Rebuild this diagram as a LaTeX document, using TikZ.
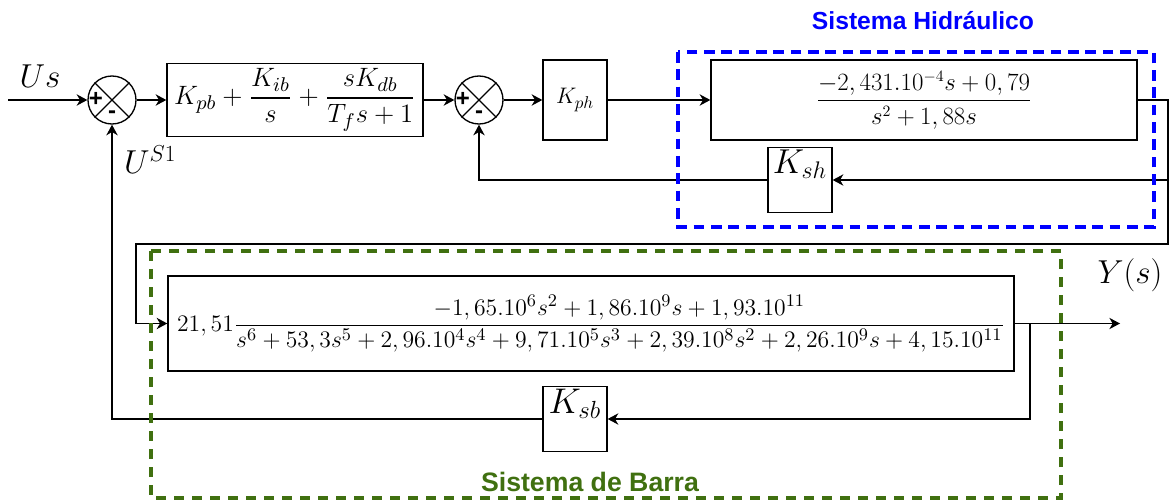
\documentclass[tikz,border=0pt]{standalone}
\usepackage{amsmath}
\usepackage{graphicx}
\usepackage{fontspec}
\newfontfamily\lblfont{Liberation Sans}
\usetikzlibrary{arrows.meta}
\definecolor{barragreen}{RGB}{64,112,16}
\begin{document}
\begin{tikzpicture}[x=0.75pt,y=-0.75pt,line width=1pt,
  blk/.style={draw,rectangle,inner sep=0pt},
  sumnode/.style={draw,circle,minimum size=36pt,inner sep=0pt},
  sgn/.style={font=\lblfont\bfseries\fontsize{18}{18}\selectfont,inner sep=0pt},
  sig/.style={font=\fontsize{24}{28}\selectfont,inner sep=0pt},
  arr/.style={-{Stealth[length=8pt,width=8.5pt,inset=2.5pt]}},
  zone/.style={line width=2.5pt,dash pattern=on 8pt off 5pt},
  zlbl/.style={font=\lblfont\bfseries\fontsize{#1}{#1}\selectfont,inner sep=0pt}]
\useasboundingbox (0,0) rectangle (1170,502);
\node[sumnode] (s1) at (112,100) {};
\draw (s1.45) -- (s1.225) (s1.135) -- (s1.315);
\node[sgn] (s1p) at (96,99) {+};
\node[sgn] (s1m) at (112,115) {-};
\node[blk,minimum width=192pt,minimum height=54.75pt,font=\fontsize{13}{15}\selectfont] (ctrl) at (295,100)
  {\scalebox{1.66}{$\displaystyle K_{pb}+\frac{K_{ib}}{s}+\frac{sK_{db}}{T_fs+1}$}};
\node[sumnode] (s2) at (479,100) {};
\draw (s2.45) -- (s2.225) (s2.135) -- (s2.315);
\node[sgn] (s2p) at (463,99) {+};
\node[sgn] (s2m) at (479,115) {-};
\node[blk,minimum width=48pt,minimum height=60pt,font=\fontsize{15}{17}\selectfont] (kph) at (575,100)
  {\scalebox{1.17}{$K_{ph}$}};
\node[blk,minimum width=319.5pt,minimum height=60pt,font=\fontsize{16}{19}\selectfont] (hid) at (924,100)
  {\scalebox{1.08}{$\displaystyle\frac{-2,431.10^{-4}s+0,79}{s^2+1,88s}$}};
\node[blk,minimum width=48pt,minimum height=48.75pt,
  label={[anchor=north,inner sep=2pt,font=\fontsize{18.5}{20}\selectfont]north:\scalebox{1.5}{$K_{sh}$}}] (ksh) at (800,180) {};
\node[blk,minimum width=634.5pt,minimum height=71.25pt,font=\fontsize{13}{15}\selectfont] (barra) at (591,323.5)
  {\scalebox{1.48}{$\displaystyle 21,51\frac{-1,65.10^6s^2+1,86.10^9s+1,93.10^{11}}{s^6+53,3s^5+2,96.10^4s^4+9,71.10^5s^3+2,39.10^8s^2+2,26.10^9s+4,15.10^{11}}$}};
\node[blk,minimum width=48pt,minimum height=48.75pt,
  label={[anchor=north,inner sep=2pt,font=\fontsize{18.5}{20}\selectfont]north:\scalebox{1.55}{$K_{sb}$}}] (ksb) at (575,419) {};
\node[sig] (us) at (40,76) {$Us$};
\node[sig] (us1) at (150,160) {$U^{S1}$};
\node[sig] (ys) at (1130,275) {$Y(s)$};
\coordinate (usin) at (8,100);
\coordinate (c1) at (1168,180);
\coordinate (c2) at (1168,244);
\coordinate (c3) at (136,244);
\coordinate (c4) at (1030,323.5);
\coordinate (yout) at (1120,323.5);
\draw[arr] (usin) -- (s1);
\draw[arr] (s1) -- (ctrl);
\draw[arr] (ctrl) -- (s2);
\draw[arr] (s2) -- (kph);
\draw[arr] (kph) -- (hid);
\draw[arr] (hid.east) -| (c2) -- (c3) |- (barra.west);
\draw[arr] (c1) -- (ksh.east);
\draw[arr] (ksh.west) -| (s2.south);
\draw[arr] (barra.east) -- (yout);
\draw[arr] (c4) |- (ksb.east);
\draw[arr] (ksb.west) -| (s1.south);
\draw[zone,blue] (678,52) rectangle (1154,227);
\draw[zone,barragreen,line width=2.3pt,dash pattern=on 7.5pt off 6pt] (151,251) rectangle (1061,498);
\node[zlbl=18.5,text=blue] (lhid) at (923,21) {Sistema Hidráulico};
\node[zlbl=20,text=barragreen] (lbarra) at (590,482) {Sistema de Barra};
\end{tikzpicture}
\end{document}
